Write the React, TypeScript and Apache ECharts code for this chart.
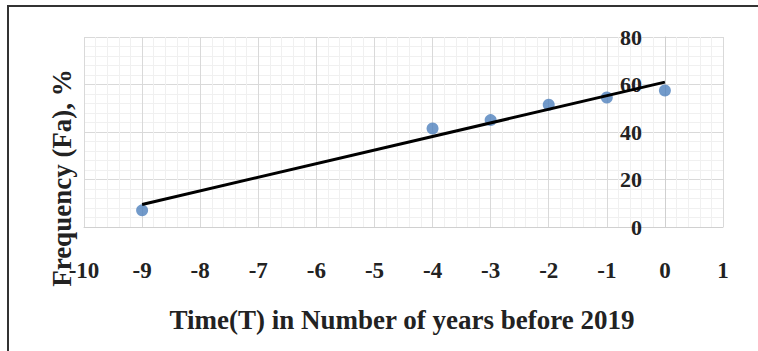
import React, { useEffect, useRef } from "react";
import * as echarts from "echarts";

const years: number[] = [-9, -4, -3, -2, -1, 0];
const frequency: number[] = [7, 41.5, 45, 51.5, 54.5, 57.5];
const trendX: number[] = [-9, 0];
const trendY: number[] = [9.5, 61];
const xTitle = "Time(T) in Number of years before 2019";
const yTitle = "Frequency (Fa), %";

const W = 758;
const H = 351;
const GRID_LEFT = 84;
const GRID_RIGHT = 35;
const X_MIN = -10;
const X_MAX = 1;

export default function App() {
  const ref = useRef<HTMLDivElement>(null);
  useEffect(() => {
    if (!ref.current) return;
    const chart = echarts.init(ref.current, null, { renderer: "svg" });
    const font = "'Liberation Serif', 'Times New Roman', serif";
    const gridW = W - GRID_LEFT - GRID_RIGHT;
    const yOffset = -(gridW * (0 - X_MIN)) / (X_MAX - X_MIN);
    chart.setOption({
      animation: false,
      backgroundColor: "#ffffff",
      grid: { left: GRID_LEFT, right: GRID_RIGHT, top: 37, bottom: 124, containLabel: false },
      xAxis: {
        type: "value",
        min: X_MIN,
        max: X_MAX,
        interval: 1,
        axisLine: { show: true, onZero: false, lineStyle: { color: "#d0d0d0", width: 1 } },
        axisTick: { show: false },
        axisLabel: {
          margin: 32,
          color: "#222",
          fontFamily: font,
          fontWeight: "bold",
          fontSize: 23,
        },
        splitLine: { show: true, lineStyle: { color: "#d9d9d9", width: 1 } },
        minorTick: { show: false, splitNumber: 5 },
        minorSplitLine: { show: true, lineStyle: { color: "#f0f0f0", width: 1 } },
      },
      yAxis: {
        type: "value",
        min: 0,
        max: 80,
        interval: 20,
        position: "left",
        offset: yOffset,
        axisLine: { show: true, onZero: false, lineStyle: { color: "#d0d0d0", width: 1 } },
        axisTick: { show: false },
        axisLabel: {
          margin: 23,
          color: "#222",
          fontFamily: font,
          fontWeight: "bold",
          fontSize: 22,
        },
        splitLine: { show: true, lineStyle: { color: "#d9d9d9", width: 1 } },
        minorTick: { show: false, splitNumber: 5 },
        minorSplitLine: { show: true, lineStyle: { color: "#f0f0f0", width: 1 } },
      },
      graphic: [
        {
          type: "rect",
          shape: { x: 8, y: 6, width: 770, height: 370 },
          style: { fill: "none", stroke: "#333", lineWidth: 2 },
          silent: true,
        },
        {
          type: "text",
          x: 402,
          y: 320,
          style: {
            text: xTitle,
            fontFamily: font,
            fontWeight: "bold",
            fontSize: 27,
            fill: "#222",
            align: "center",
            verticalAlign: "middle",
          },
        },
        {
          type: "text",
          x: 62,
          y: 178,
          rotation: Math.PI / 2,
          style: {
            text: yTitle,
            fontFamily: font,
            fontWeight: "bold",
            fontSize: 27,
            fill: "#222",
            align: "center",
            verticalAlign: "middle",
          },
        },
      ],
      series: [
        {
          type: "scatter",
          data: years.map((x, i) => [x, frequency[i]]),
          symbolSize: 12,
          itemStyle: { color: "#4f81bd" },
          z: 2,
        },
        {
          type: "line",
          data: trendX.map((x, i) => [x, trendY[i]]),
          showSymbol: false,
          lineStyle: { color: "#000", width: 3 },
          z: 3,
        },
      ],
    });
    return () => chart.dispose();
  }, []);
  return (
    <div
      ref={ref}
      style={{ position: "fixed", left: 0, top: 0, width: W, height: H }}
    />
  );
}
